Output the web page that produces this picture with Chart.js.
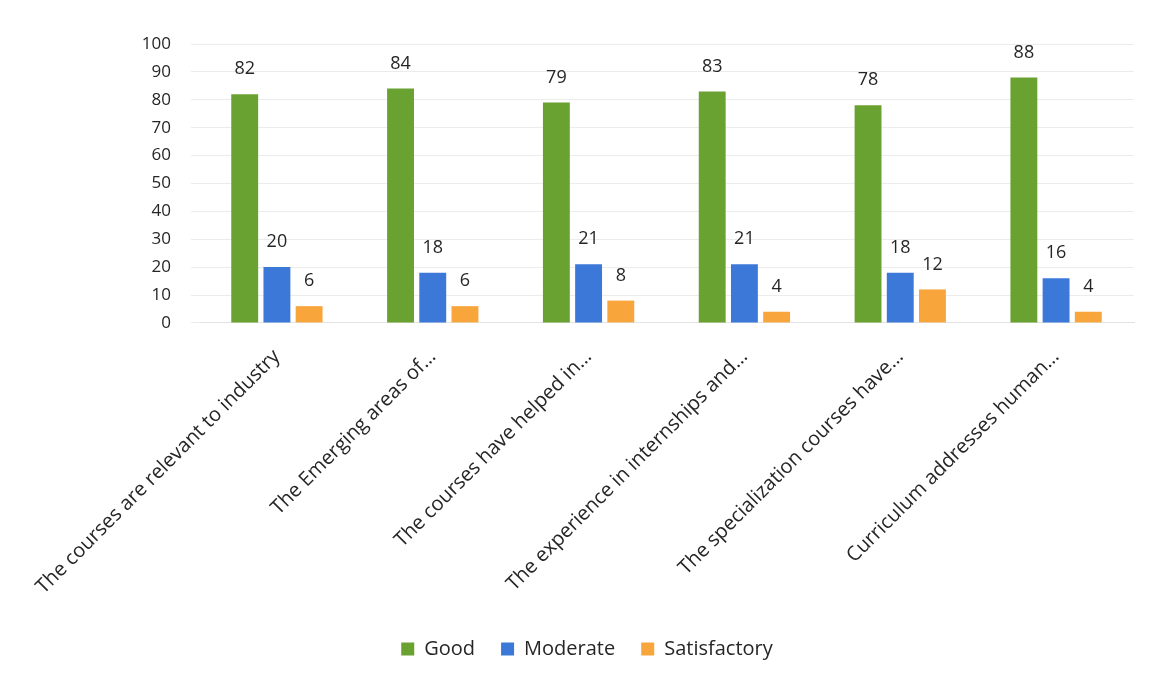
<!DOCTYPE html>
<html>
<head>
<meta charset="utf-8">
<script src="https://cdn.jsdelivr.net/npm/chart.js@4/dist/chart.umd.min.js"></script>
<style>
  html, body { margin: 0; padding: 0; background: #fff; }
  #wrap { width: 1150px; height: 679px; }
</style>
</head>
<body>
<div id="wrap"><canvas id="chart"></canvas></div>
<script>
// Survey responses per statement (Good / Moderate / Satisfactory)
const CATEGORIES = [
  "The courses are relevant to industry",
  "The Emerging areas of…",
  "The courses have helped in…",
  "The experience in internships and…",
  "The specialization courses have…",
  "Curriculum addresses human…",
];
const GOOD = [82, 84, 79, 83, 78, 88];
const MODERATE = [20, 18, 21, 21, 18, 16];
const SATISFACTORY = [6, 6, 8, 4, 12, 4];
const Y_TICKS = [0, 10, 20, 30, 40, 50, 60, 70, 80, 90, 100];

const FONT = "'Open Sans', sans-serif";
const TEXT = "#262626";

// draws the value above each bar
const valueLabels = {
  id: "valueLabels",
  afterDatasetsDraw(chart) {
    const ctx = chart.ctx;
    ctx.save();
    ctx.font = `18px ${FONT}`;
    ctx.fillStyle = TEXT;
    ctx.textAlign = "center";
    ctx.textBaseline = "middle";
    chart.data.datasets.forEach((ds, i) => {
      chart.getDatasetMeta(i).data.forEach((bar, j) => {
        ctx.fillText(ds.data[j], bar.x, bar.y - 25);
      });
    });
    ctx.restore();
  },
};

new Chart(document.getElementById("chart"), {
  type: "bar",
  data: {
    labels: CATEGORIES,
    datasets: [
      { label: "Good", data: GOOD, backgroundColor: "#6aa232" },
      { label: "Moderate", data: MODERATE, backgroundColor: "#3c78d8" },
      { label: "Satisfactory", data: SATISFACTORY, backgroundColor: "#f8a63c" },
    ],
  },
  options: {
    responsive: true,
    maintainAspectRatio: false,
    animation: false,
    layout: { padding: { top: 44, left: 40, right: 16, bottom: 10 } },
    datasets: { bar: { categoryPercentage: 0.62, barPercentage: 0.835 } },
    plugins: {
      legend: {
        position: "bottom",
        labels: { font: { family: FONT, size: 20 }, color: TEXT, boxWidth: 13, boxHeight: 13, padding: 26 },
      },
      tooltip: { enabled: false },
    },
    scales: {
      x: {
        grid: { display: false },
        border: { color: "#e3e3e3" },
        ticks: { font: { family: FONT, size: 20 }, color: TEXT, minRotation: 45, maxRotation: 45, padding: 14 },
      },
      y: {
        min: 0, max: 100,
        afterBuildTicks: (axis) => { axis.ticks = Y_TICKS.map((v) => ({ value: v })); },
        afterFit: (axis) => { axis.width = 159; },
        grid: { color: "#ececec" },
        border: { display: false },
        ticks: { font: { family: FONT, size: 17 }, color: TEXT, padding: 20 },
      },
    },
  },
  plugins: [valueLabels],
});
</script>
</body>
</html>
